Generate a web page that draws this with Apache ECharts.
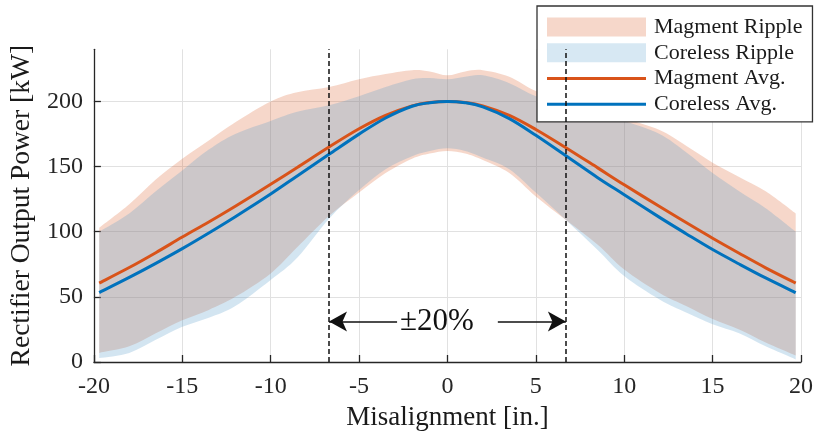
<!DOCTYPE html>
<html>
<head>
<meta charset="utf-8">
<script src="https://cdn.jsdelivr.net/npm/echarts@6/dist/echarts.min.js"></script>
<style>
  html, body { margin: 0; padding: 0; background: #fff; }
  #chart { width: 816px; height: 436px; }
</style>
</head>
<body>
<div id="chart"></div>
<script>
// Misalignment positions [in.]
const misalignment = [-19.7, -18, -16.5, -15, -13.5, -12, -10, -8.5, -6.7, -5, -3.5, -2, -1, 0,
                      1, 2, 3.5, 5, 6.7, 8.5, 10, 12, 13.5, 15, 16.5, 18, 19.7];

// Average rectifier output power [kW]
const magmentAvg  = [60.6, 72.5, 83.9, 95.9, 107.5, 119.6, 136.4, 149.3, 165, 179, 189.3, 196.6, 199.2, 200,
                     199.2, 196.6, 189.3, 178.5, 164.5, 149, 136, 119.3, 107, 95, 83.5, 72.3, 60.6];
const corelessAvg = [53.3, 64.9, 75.7, 87, 99, 111.5, 128.9, 142.8, 159.4, 174.9, 187.3, 196.3, 199, 200,
                     199, 195.8, 186.8, 174, 158.3, 141.5, 128.4, 111, 98.5, 86.3, 75.2, 64.5, 53.2];

// Ripple envelopes (upper / lower) [kW]
const magmentUpper  = [103, 121, 140, 156, 170, 184, 200, 207, 211, 217, 221, 224, 223, 220,
                       223, 224, 219, 208, 201, 194, 187, 178, 166, 153, 142, 131, 114];
const magmentLower  = [7, 12, 22, 32, 40, 50, 68, 88, 112, 130, 145, 156, 160, 162,
                       160, 155, 145, 127, 109, 90, 71, 53, 43, 33, 25, 15, 5];
const corelessUpper = [100, 114, 131, 147, 163, 175, 185, 192, 197, 204, 211, 217, 218, 217,
                       219, 220, 214, 204, 197, 191, 185, 175, 161, 145, 131, 118, 100];
const corelessLower = [3, 7, 17, 27, 34, 43, 63, 80, 110, 132, 148, 158, 162, 164,
                       162, 157, 148, 130, 109, 86, 66, 48, 38, 29, 22, 12, 2];

// Axis ticks
const xTicks = [-20, -15, -10, -5, 0, 5, 10, 15, 20];
const yTicks = [0, 50, 100, 150, 200];

// ±20% misalignment boundaries and annotation
const boundary = 6.7;
const arrowLevel = 31;
const arrowTail = 2.85;
const rangeLabel = '±20%';

const SERIF = '"Liberation Serif", "Times New Roman", serif';
const ORANGE = '#D95319';
const BLUE = '#0072BD';

// Catmull-Rom smoothing of a pixel polyline into cubic Bezier segments
function bezierSegments(pts) {
  let d = '';
  for (let i = 0; i < pts.length - 1; i++) {
    const p0 = pts[Math.max(i - 1, 0)], p1 = pts[i], p2 = pts[i + 1];
    const p3 = pts[Math.min(i + 2, pts.length - 1)];
    const c1 = [p1[0] + (p2[0] - p0[0]) / 6, p1[1] + (p2[1] - p0[1]) / 6];
    const c2 = [p2[0] - (p3[0] - p1[0]) / 6, p2[1] - (p3[1] - p1[1]) / 6];
    d += ' C' + c1[0] + ',' + c1[1] + ' ' + c2[0] + ',' + c2[1] + ' ' + p2[0] + ',' + p2[1];
  }
  return d;
}

// Filled ripple band between an upper and a lower envelope
function rippleBand(name, upper, lower, fill) {
  return {
    name: name,
    type: 'custom',
    silent: true,
    clip: true,
    itemStyle: { color: fill },
    data: [[0, 100]],
    renderItem: function (params, api) {
      const top = misalignment.map((x, i) => api.coord([x, upper[i]]));
      const bot = misalignment.map((x, i) => api.coord([x, lower[i]])).reverse();
      const d = 'M' + top[0][0] + ',' + top[0][1] + bezierSegments(top) +
                ' L' + bot[0][0] + ',' + bot[0][1] + bezierSegments(bot) + ' Z';
      return { type: 'path', shape: { pathData: d }, style: { fill: fill } };
    }
  };
}

// Smooth average curve through the sampled points
function avgCurve(name, values, color, width) {
  return {
    name: name,
    type: 'custom',
    silent: true,
    clip: true,
    itemStyle: { color: color },
    data: [[0, 100]],
    renderItem: function (params, api) {
      const pts = misalignment.map((x, i) => api.coord([x, values[i]]));
      const d = 'M' + pts[0][0] + ',' + pts[0][1] + bezierSegments(pts);
      return { type: 'path', shape: { pathData: d },
               style: { fill: 'none', stroke: color, lineWidth: width, lineJoin: 'round' } };
    }
  };
}

const chart = echarts.init(document.getElementById('chart'), null, { renderer: 'canvas' });

const axisLineStyle = { color: '#262626', width: 1.3 };
const gridLineStyle = { color: '#e1e1e1', width: 1 };
const arrowStyle = { type: 'solid', width: 1.6, color: '#111' };

chart.setOption({
  animation: false,
  backgroundColor: '#fff',
  grid: { left: 92.5, right: 14.3, top: 49.3, bottom: 73.3 },
  legend: {
    orient: 'vertical',
    left: 537, top: 6,
    padding: [10.1, 10, 6.6, 10],
    itemWidth: 99, itemHeight: 19, itemGap: 3.7,
    backgroundColor: '#fff',
    borderColor: '#333', borderWidth: 1.3, borderRadius: 0,
    selectedMode: false,
    textStyle: { fontFamily: SERIF, fontSize: 22, color: '#1a1a1a', padding: [0, 0, 0, 3] },
    data: [
      { name: 'Magment Ripple', icon: 'rect', itemStyle: { color: '#F6D7CA', opacity: 1 } },
      { name: 'Coreless Ripple', icon: 'rect', itemStyle: { color: '#D7E8F3', opacity: 1 } },
      { name: 'Magment Avg.', icon: 'path://M0,0L99,0L99,3L0,3Z', itemStyle: { color: ORANGE } },
      { name: 'Coreless Avg.', icon: 'path://M0,0L99,0L99,3L0,3Z', itemStyle: { color: BLUE } }
    ]
  },
  xAxis: {
    type: 'value',
    min: xTicks[0], max: xTicks[xTicks.length - 1], interval: 5,
    name: 'Misalignment [in.]',
    nameLocation: 'middle', nameGap: 42,
    nameTextStyle: { fontFamily: SERIF, fontSize: 27, color: '#1a1a1a' },
    axisLine: { show: true, onZero: false, lineStyle: axisLineStyle },
    axisTick: { show: true, inside: true, length: 7, lineStyle: axisLineStyle },
    axisLabel: { fontFamily: SERIF, fontSize: 24, color: '#262626', margin: 13 },
    splitLine: { show: true, lineStyle: gridLineStyle }
  },
  yAxis: {
    type: 'value',
    min: 0, max: 240, interval: 50,
    name: 'Rectifier Output Power [kW]',
    nameLocation: 'middle', nameGap: 53,
    nameTextStyle: { fontFamily: SERIF, fontSize: 27.5, color: '#1a1a1a' },
    axisLine: { show: true, onZero: false, lineStyle: axisLineStyle },
    axisTick: { show: true, inside: true, length: 7, lineStyle: axisLineStyle, customValues: yTicks },
    axisLabel: { fontFamily: SERIF, fontSize: 24, color: '#262626', margin: 11, customValues: yTicks },
    splitLine: { show: true, lineStyle: gridLineStyle }
  },
  series: [
    rippleBand('Magment Ripple', magmentUpper, magmentLower, 'rgba(217,83,25,0.23)'),
    rippleBand('Coreless Ripple', corelessUpper, corelessLower, 'rgba(81,150,198,0.25)'),
    avgCurve('Magment Avg.', magmentAvg, ORANGE, 3),
    avgCurve('Coreless Avg.', corelessAvg, BLUE, 3),
    {
      // annotation layer: ±20% boundaries, arrows and label
      type: 'line',
      silent: true,
      symbol: 'none',
      lineStyle: { opacity: 0 },
      data: [],
      markLine: {
        silent: true,
        symbol: ['none', 'none'],
        label: { show: false },
        emphasis: { disabled: true },
        lineStyle: { color: '#111', width: 1.5, type: [5, 3] },
        data: [
          { xAxis: -boundary },
          { xAxis: boundary },
          [
            { coord: [-arrowTail, arrowLevel], symbol: 'none', lineStyle: arrowStyle },
            { coord: [-boundary, arrowLevel], symbol: 'arrow', symbolSize: [15, 18], lineStyle: arrowStyle }
          ],
          [
            { coord: [arrowTail, arrowLevel], symbol: 'none', lineStyle: arrowStyle },
            { coord: [boundary, arrowLevel], symbol: 'arrow', symbolSize: [15, 18], lineStyle: arrowStyle }
          ]
        ]
      },
      markPoint: {
        silent: true,
        symbol: 'circle',
        symbolSize: 1,
        itemStyle: { color: 'rgba(0,0,0,0)' },
        label: {
          show: true, position: 'inside', formatter: rangeLabel,
          fontFamily: SERIF, fontSize: 31, color: '#111'
        },
        data: [{ coord: [-0.6, arrowLevel] }]
      }
    }
  ]
});
</script>
</body>
</html>
